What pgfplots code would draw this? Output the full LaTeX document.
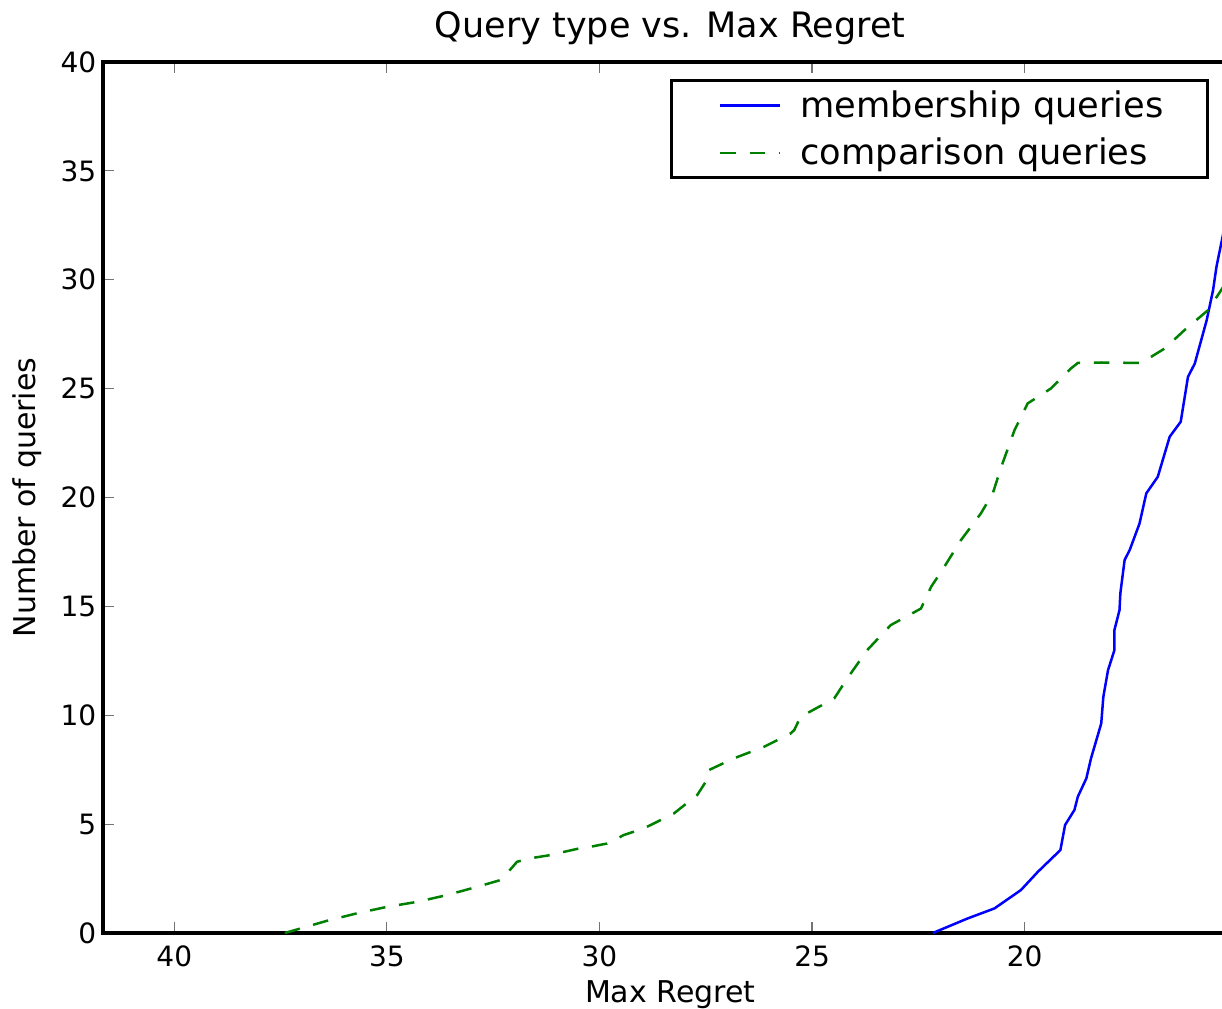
\documentclass[border=0pt]{standalone}
\usepackage{fontspec}
\setmainfont{DejaVu Sans}
\usepackage{pgfplots}
\pgfplotsset{compat=1.18}
\definecolor{mplgreen}{rgb}{0,0.5,0}
\begin{document}
\begin{tikzpicture}
\begin{axis}[
  scale only axis, width=567pt, height=435.5pt,
  x dir=reverse, xmin=15, xmax=41.67, ymin=0, ymax=40,
  xtick={20,25,30,35,40}, ytick={0,5,10,15,20,25,30,35,40},
  axis line style={line width=2pt},
  tick style={black!55, line width=0.6pt},
  major tick length=5.3pt, tick align=inside,
  /pgf/number format/assume math mode=true,
  tick label style={font=\fontsize{14}{16}\selectfont},
  xticklabel style={yshift=-2.6pt},
  title={Query type vs. Max Regret},
  every axis title/.style={font=\fontsize{17.5}{20}\selectfont, at={(axis description cs:0.5,1)}, anchor=base, yshift=12.5pt},
  xlabel={Max Regret},
  ylabel={Number of queries},
  every axis x label/.style={at={(axis description cs:0.5,0)}, anchor=base, yshift=-34.5pt, font=\fontsize{15}{18}\selectfont},
  every axis y label/.style={at={(axis description cs:0,0.5)}, rotate=90, anchor=base, yshift=34pt, font=\fontsize{15}{18}\selectfont},
  legend style={at={(axis description cs:1,1)}, anchor=north east, xshift=-14pt, yshift=-8.5pt,
    draw=black, line width=1.5pt, font=\fontsize{17.6}{21}\selectfont,
    inner xsep=22pt, inner ysep=5pt, row sep=9pt, column sep=9.5pt,
    nodes={inner sep=0pt}, cells={anchor=west}},
  legend image code/.code={\path (0pt,0pt); \draw[#1] (1.7pt,0pt) -- (31.7pt,0pt);},
  clip=true,
]
\addplot[blue, line width=1.25pt] coordinates {
(22.16,0.0) (21.34,0.67) (20.71,1.13) (20.09,1.97) (19.69,2.81) (19.16,3.81)
(19.05,4.96) (18.83,5.65) (18.75,6.26) (18.55,7.10) (18.44,8.02) (18.20,9.62)
(18.15,10.85) (18.04,12.07) (17.89,12.99) (17.89,13.91) (17.77,14.83) (17.75,15.60)
(17.65,17.13) (17.53,17.59) (17.30,18.80) (17.14,20.19) (16.87,20.95) (16.59,22.79)
(16.33,23.48) (16.16,25.54) (16.00,26.15) (15.72,28.14) (15.57,29.52) (15.49,30.59)
(15.41,31.36) (15.33,32.12) (15.20,33.3)
};
\addlegendentry{membership queries}
\addplot[mplgreen, line width=1.25pt, dash pattern=on 7.8pt off 6.9pt] coordinates {
(37.40,0.0) (36.41,0.56) (35.71,0.90) (35.00,1.20) (34.29,1.43) (33.59,1.74)
(32.88,2.12) (32.33,2.43) (32.21,2.66) (31.94,3.27) (31.63,3.43) (31.15,3.58)
(30.92,3.69) (30.37,3.93) (30.21,3.96) (29.82,4.11) (29.58,4.34) (29.43,4.50)
(28.96,4.80) (28.25,5.49) (27.70,6.34) (27.50,6.95) (27.43,7.48) (26.84,8.02)
(26.13,8.55) (25.50,9.17) (25.42,9.32) (25.27,9.93) (24.48,10.77) (24.17,11.70)
(23.70,13.00) (23.15,14.14) (22.44,14.90) (22.20,15.90) (21.89,16.82) (21.50,18.04)
(21.03,19.27) (20.75,20.19) (20.55,21.41) (20.24,23.09) (19.93,24.32) (19.38,25.01)
(18.91,25.93) (18.75,26.18) (18.20,26.20) (17.26,26.18) (16.71,26.84) (16.24,27.69)
(15.69,28.60) (15.33,29.67) (15.20,30.1)
};
\addlegendentry{comparison queries}
\end{axis}
\pgfresetboundingbox
\path[use as bounding box] ([shift={(-51.65pt,-37.5pt)}]current axis.south west) rectangle ([shift={(559.35pt,31pt)}]current axis.north west);
\end{tikzpicture}
\end{document}
